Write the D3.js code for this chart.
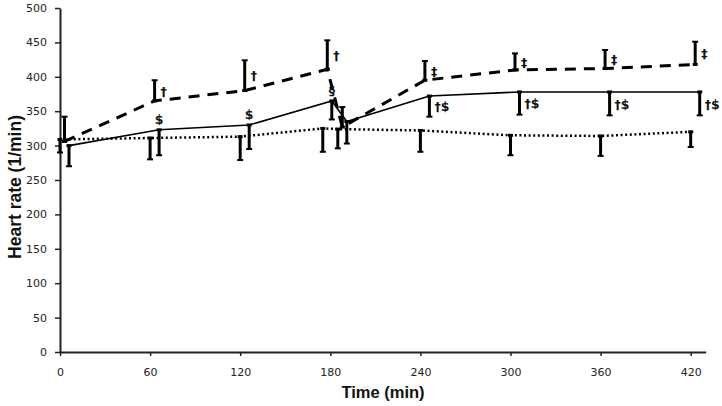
<!DOCTYPE html>
<html><head><meta charset="utf-8">
<script src="https://cdn.jsdelivr.net/npm/d3@7"></script>
<style>body{margin:0;background:#fff}svg{display:block}</style>
</head><body>
<script>
// ---- data ----
const times = [0, 60, 120, 175, 185, 240, 300, 360, 420];
const xTicks = [0, 60, 120, 180, 240, 300, 360, 420];
const yTicks = [0, 50, 100, 150, 200, 250, 300, 350, 400, 450, 500];
const dashedVals = [306, 365, 380, 411, 327, 395, 410, 412, 418];
const dashedErr  = [36, 30, 44, 42, 29, 28, 24, 27, 33];      // upward
const solidVals  = [300, 323, 330, 365, 335, 372, 378, 378, 378];
const solidErr   = [30, 37, 35, 27, 32, 30, 33, 34, 34];      // downward
const dottedVals = [309, 311, 313, 325, 324, 322, 315, 314, 320];
const dottedErr  = [19, 31, 34, 34, 28, 31, 29, 29, 22];      // downward
const dashedMarks = ["", "†", "†", "†", "", "‡", "‡", "‡", "‡"];
const solidMarks  = ["", "$", "$", "§", "", "†$", "†$", "†$", "†$"];
const timeOffsets = {dotted: 0, dashed: 3, solid: 6};

const W = 722, H = 406;
const svg = d3.select("body").append("svg").attr("width", W).attr("height", H);
const x = d3.scaleLinear().domain([0, 430]).range([60, 705.7]);
const y = d3.scaleLinear().domain([0, 500]).range([352, 8]);

// axes
const yAxis = svg.append("g").attr("transform", "translate(60,0)")
  .call(d3.axisLeft(y).tickValues(yTicks).tickSize(5).tickPadding(8).tickSizeOuter(0));
const xAxis = svg.append("g").attr("transform", "translate(0,352)")
  .call(d3.axisBottom(x).tickValues(xTicks).tickSize(4).tickPadding(12).tickSizeOuter(0));
[yAxis, xAxis].forEach(g => {
  g.select(".domain").attr("stroke", "#222").attr("stroke-width", 2);
  g.selectAll(".tick line").attr("stroke", "#222").attr("stroke-width", 1.5);
  g.selectAll(".tick text").attr("fill", "#222").style("font-family", "DejaVu Sans")
    .style("font-size", "11px");
});

svg.append("text").attr("x", 383).attr("y", 398).attr("text-anchor", "middle")
  .style("font-family", "Liberation Sans").style("font-weight", "bold").style("font-size", "16.5px")
  .attr("fill", "#111").text("Time (min)");
svg.append("text").attr("transform", "translate(21,187) rotate(-90)").attr("text-anchor", "middle")
  .style("font-family", "Liberation Sans").style("font-weight", "bold").style("font-size", "17.5px")
  .attr("fill", "#111").text("Heart rate (1/min)");

function series(vals, errs, off, dir, lineStyle) {
  const pts = vals.map((v, i) => ({t: times[i] + off, v, e: errs[i]}));
  const line = d3.line().x(d => x(d.t)).y(d => y(d.v));
  svg.append("path").datum(pts).attr("d", line).attr("fill", "none")
    .attr("stroke", "#000").attr("stroke-width", lineStyle.w)
    .attr("stroke-dasharray", lineStyle.dash || null)
    .attr("stroke-linecap", lineStyle.cap || "butt");
  const g = svg.append("g");
  pts.forEach(d => {
    const x0 = x(d.t), y0 = y(d.v), y1 = y(d.v + dir * d.e);
    g.append("line").attr("x1", x0).attr("x2", x0).attr("y1", y0).attr("y2", y1)
      .attr("stroke", "#000").attr("stroke-width", 3);
    g.append("line").attr("x1", x0 - 3).attr("x2", x0 + 3).attr("y1", y1).attr("y2", y1)
      .attr("stroke", "#000").attr("stroke-width", 2);
    g.append("rect").attr("x", x0 - 2.5).attr("y", y0 - 1.5).attr("width", 5).attr("height", 3)
      .attr("fill", "#000");
  });
  return pts;
}

const dotted = series(dottedVals, dottedErr, timeOffsets.dotted, -1, {w: 2.5, dash: "2,2.6"});
const dashed = series(dashedVals, dashedErr, timeOffsets.dashed, 1, {w: 3, dash: "11,8"});
const solid  = series(solidVals, solidErr, timeOffsets.solid, -1, {w: 1.6});

const markStyle = s => s.style("font-family", "DejaVu Sans").style("font-weight", "bold")
  .style("font-size", "12.5px").attr("fill", "#111");

dashed.forEach((d, i) => {
  if (!dashedMarks[i]) return;
  const ym = (y(d.v) + y(d.v + d.e)) / 2;
  svg.append("text").attr("x", x(d.t) + 6).attr("y", ym + 5).text(dashedMarks[i]).call(markStyle);
});
solid.forEach((d, i) => {
  const m = solidMarks[i];
  if (!m) return;
  if (m.length === 1) {
    svg.append("text").attr("x", x(d.t)).attr("y", y(d.v) - 6).attr("text-anchor", "middle")
      .text(m).call(markStyle);
  } else {
    const ym = (y(d.v) + y(d.v - d.e)) / 2;
    svg.append("text").attr("x", x(d.t) + 5).attr("y", ym + 5).text(m).call(markStyle);
  }
});
</script>
</body></html>
